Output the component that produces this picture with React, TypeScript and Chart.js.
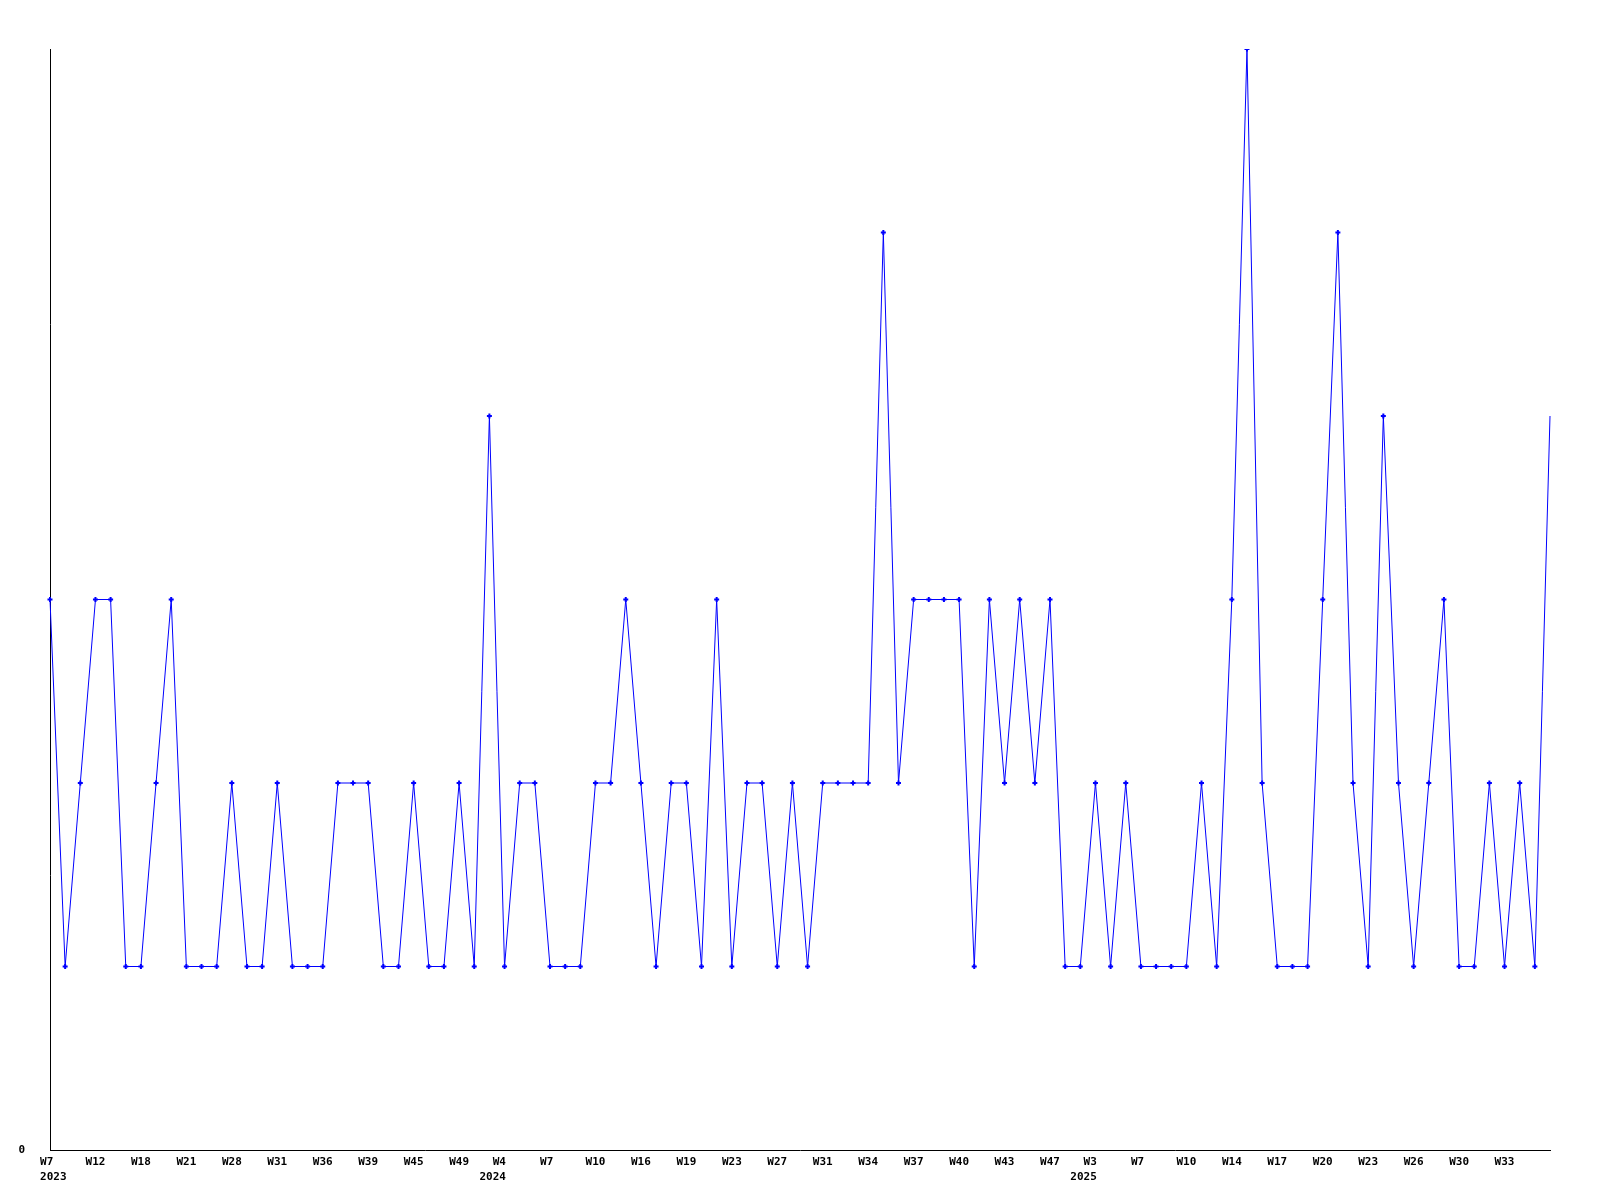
import React, { useEffect, useRef } from "react";
import { Chart, registerables } from "chart.js";

Chart.register(...registerables);

// Weekly counts, one per plotted week
const values: number[] = [
  3, 1, 2, 3, 3, 1, 1, 2, 3, 1,
  1, 1, 2, 1, 1, 2, 1, 1, 1, 2,
  2, 2, 1, 1, 2, 1, 1, 2, 1, 4,
  1, 2, 2, 1, 1, 1, 2, 2, 3, 2,
  1, 2, 2, 1, 3, 1, 2, 2, 1, 2,
  1, 2, 2, 2, 2, 5, 2, 3, 3, 3,
  3, 1, 3, 2, 3, 2, 3, 1, 1, 2,
  1, 2, 1, 1, 1, 1, 2, 1, 3, 6,
  2, 1, 1, 1, 3, 5, 2, 1, 4, 2,
  1, 2, 3, 1, 1, 2, 1, 2, 1, 4,
];

// Week labels shown on the x axis (blank = point without a visible label)
const weekLabels: (string | string[])[] = [
  [" W7  ", " 2023"], "", "", "W12", "", "", "W18", "", "", "W21",
  "", "", "W28", "", "", "W31", "", "", "W36", "",
  "", "W39", "", "", "W45", "", "", "W49", "", ["   W4", " 2024"],
  "", "", "", "W7 ", "", "", "W10", "", "", "W16",
  "", "", "W19", "", "", "W23", "", "", "W27", "",
  "", "W31", "", "", "W34", "", "", "W37", "", "",
  "W40", "", "", "W43", "", "", "W47", "", ["   W3", " 2025"], "",
  "", "", "W7 ", "", "", "W10", "", "", "W14", "",
  "", "W17", "", "", "W20", "", "", "W23", "", "",
  "W26", "", "", "W30", "", "", "W33", "", "", "",
];

const yTickLabels: Record<number, string> = { 0: "0" };

const FONT = { family: "'DejaVu Sans Mono', 'Liberation Mono', monospace", size: 11, weight: "bold" as const, lineHeight: 1.32 };
const BLUE = "#0000ff";

export default function App() {
  const ref = useRef<HTMLCanvasElement | null>(null);

  useEffect(() => {
    if (!ref.current) return;
    const chart = new Chart(ref.current, {
      type: "line",
      data: {
        labels: weekLabels as any,
        datasets: [
          {
            data: values,
            borderColor: BLUE,
            backgroundColor: BLUE,
            borderWidth: 1,
            pointStyle: "cross",
            pointRadius: (ctx: any) => (ctx.dataIndex === values.length - 1 ? 0 : 2.5),
            pointBorderWidth: 2,
            pointBorderColor: BLUE,
            pointBackgroundColor: BLUE,
            tension: 0,
            fill: false,
          },
        ],
      },
      options: {
        animation: false,
        responsive: false,
        maintainAspectRatio: false,
        layout: { padding: { top: 49, right: 50, left: 0, bottom: 0 } },
        plugins: {
          legend: { display: false },
          tooltip: { enabled: false },
          title: { display: false },
        },
        scales: {
          x: {
            type: "category",
            offset: false,
            grid: { display: true, drawOnChartArea: false, drawTicks: false, color: "rgba(0,0,0,0)" },
            border: { display: true, color: "#000", width: 1 },
            ticks: {
              autoSkip: false,
              maxRotation: 0,
              minRotation: 0,
              padding: 5,
              color: "#000",
              font: FONT,
            },
            afterFit: (s: any) => {
              s.height = 50;
            },
          },
          y: {
            min: 0,
            max: 6,
            grid: { display: true, drawOnChartArea: false, drawTicks: false, color: "rgba(0,0,0,0)" },
            border: { display: true, color: "#000", width: 1 },
            ticks: {
              stepSize: 1,
              padding: 25,
              color: "#000",
              font: FONT,
              callback: (v: any) => (yTickLabels[Number(v)] ?? ""),
            },
            afterFit: (s: any) => {
              s.width = 50;
            },
          },
        },
      },
    });
    return () => chart.destroy();
  }, []);

  return (
    <div style={{ position: "fixed", left: 0, top: 0, width: 1600, height: 1200, background: "#fff" }}>
      <canvas ref={ref} width={1600} height={1200} style={{ width: 1600, height: 1200 }} />
    </div>
  );
}
